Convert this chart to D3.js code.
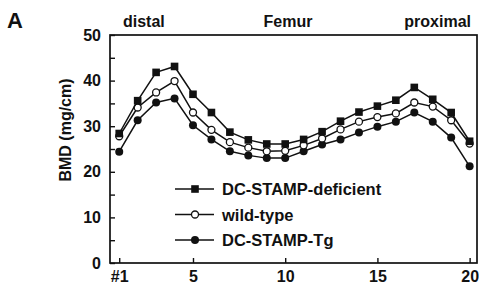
<!DOCTYPE html>
<html><head><meta charset="utf-8">
<script src="https://cdn.jsdelivr.net/npm/d3@7"></script>
<style>body{margin:0;background:#fff}svg{display:block}text{font-family:"Liberation Sans",Arial,sans-serif;font-weight:bold;fill:#111}</style>
</head><body>
<script>
const positions = d3.range(1, 21);
const deficient = [28.4, 35.6, 41.8, 43.1, 37.0, 33.0, 28.7, 27.0, 26.1, 26.1, 27.1, 28.8, 31.1, 33.1, 34.4, 35.7, 38.5, 35.9, 33.0, 26.7];
const wildType  = [27.8, 34.1, 37.4, 39.9, 33.0, 29.2, 26.5, 25.3, 24.5, 24.6, 25.8, 27.3, 29.3, 31.0, 32.0, 32.8, 35.2, 34.3, 31.3, 26.2];
const tg        = [24.4, 31.3, 35.2, 36.1, 30.2, 27.1, 24.5, 23.6, 23.0, 23.0, 24.5, 26.0, 27.1, 28.6, 29.9, 31.0, 33.0, 31.0, 27.5, 21.2];
const seriesNames = ["DC-STAMP-deficient", "wild-type", "DC-STAMP-Tg"];
const xTicks = [1, 5, 10, 15, 20];
const xTickLabels = ["#1", "5", "10", "15", "20"];
const yTicks = [0, 10, 20, 30, 40, 50];
const regionLabels = ["distal", "Femur", "proximal"];

const W = 479, H = 285;
const svg = d3.select("body").append("svg").attr("width", W).attr("height", H);
const mLeft = 110, mRight = 477, mTop = 35, mBottom = 263;
const x = d3.scaleLinear().domain([0.5, 20.4]).range([mLeft, mRight]);
const y = d3.scaleLinear().domain([0, 50]).range([mBottom, mTop]);

// frame
svg.append("rect").attr("x", mLeft).attr("y", mTop).attr("width", mRight - mLeft).attr("height", mBottom - mTop)
  .attr("fill", "none").attr("stroke", "#111").attr("stroke-width", 1.7);

// y axis
const yAx = svg.append("g").attr("transform", `translate(${mLeft},0)`)
  .call(d3.axisLeft(y).tickValues(d3.range(0, 51, 5)).tickSize(-5).tickFormat(d => yTicks.includes(d) ? d : ""));
yAx.select(".domain").remove();
yAx.selectAll("line").attr("stroke", "#111").attr("stroke-width", 1.4);
yAx.selectAll("text").attr("x", -9).attr("font-size", 16).attr("fill", "#111").style("font-family", "Liberation Sans, Arial").style("font-weight", "bold");

// x axis
const xAx = svg.append("g").attr("transform", `translate(0,${mBottom})`)
  .call(d3.axisBottom(x).tickValues(xTicks).tickSize(-5).tickFormat((d, i) => xTickLabels[i]));
xAx.select(".domain").remove();
xAx.selectAll("line").attr("stroke", "#111").attr("stroke-width", 1.4);
xAx.selectAll("text").attr("y", 8).attr("font-size", 16).attr("fill", "#111").style("font-family", "Liberation Sans, Arial").style("font-weight", "bold");

// labels
svg.append("text").attr("x", 7).attr("y", 28).attr("font-size", 22).text("A");
svg.append("text").attr("x", 123).attr("y", 27).attr("font-size", 16).text(regionLabels[0]);
svg.append("text").attr("x", 288).attr("y", 27).attr("text-anchor", "middle").attr("font-size", 16).text(regionLabels[1]);
svg.append("text").attr("x", 471).attr("y", 27).attr("text-anchor", "end").attr("font-size", 16).text(regionLabels[2]);
svg.append("text").attr("transform", "translate(71,130) rotate(-90)").attr("text-anchor", "middle").attr("font-size", 16).text("BMD (mg/cm)");

const allSeries = [deficient, wildType, tg];
const line = d3.line().x((d, i) => x(positions[i])).y(d => y(d));

function marker(g, kind, cx, cy) {
  if (kind === 0) g.append("rect").attr("x", cx - 3.8).attr("y", cy - 3.8).attr("width", 7.6).attr("height", 7.6).attr("fill", "#111");
  else if (kind === 1) g.append("circle").attr("cx", cx).attr("cy", cy).attr("r", 3.5).attr("fill", "#fff").attr("stroke", "#111").attr("stroke-width", 1.3);
  else g.append("circle").attr("cx", cx).attr("cy", cy).attr("r", 4).attr("fill", "#111");
}

[2, 1, 0].forEach(k => {
  const g = svg.append("g");
  g.append("path").datum(allSeries[k]).attr("d", line).attr("fill", "none").attr("stroke", "#111").attr("stroke-width", 1.5);
  allSeries[k].forEach((v, i) => marker(g, k, x(positions[i]), y(v)));
});

// legend
seriesNames.forEach((name, k) => {
  const ly = 189 + k * 25.5;
  const g = svg.append("g");
  g.append("line").attr("x1", 175).attr("x2", 214).attr("y1", ly).attr("y2", ly).attr("stroke", "#111").attr("stroke-width", 1.5);
  marker(g, k, 195, ly);
  g.append("text").attr("x", 222).attr("y", ly + 6).attr("font-size", 16.5).text(name);
});
</script>
</body></html>
